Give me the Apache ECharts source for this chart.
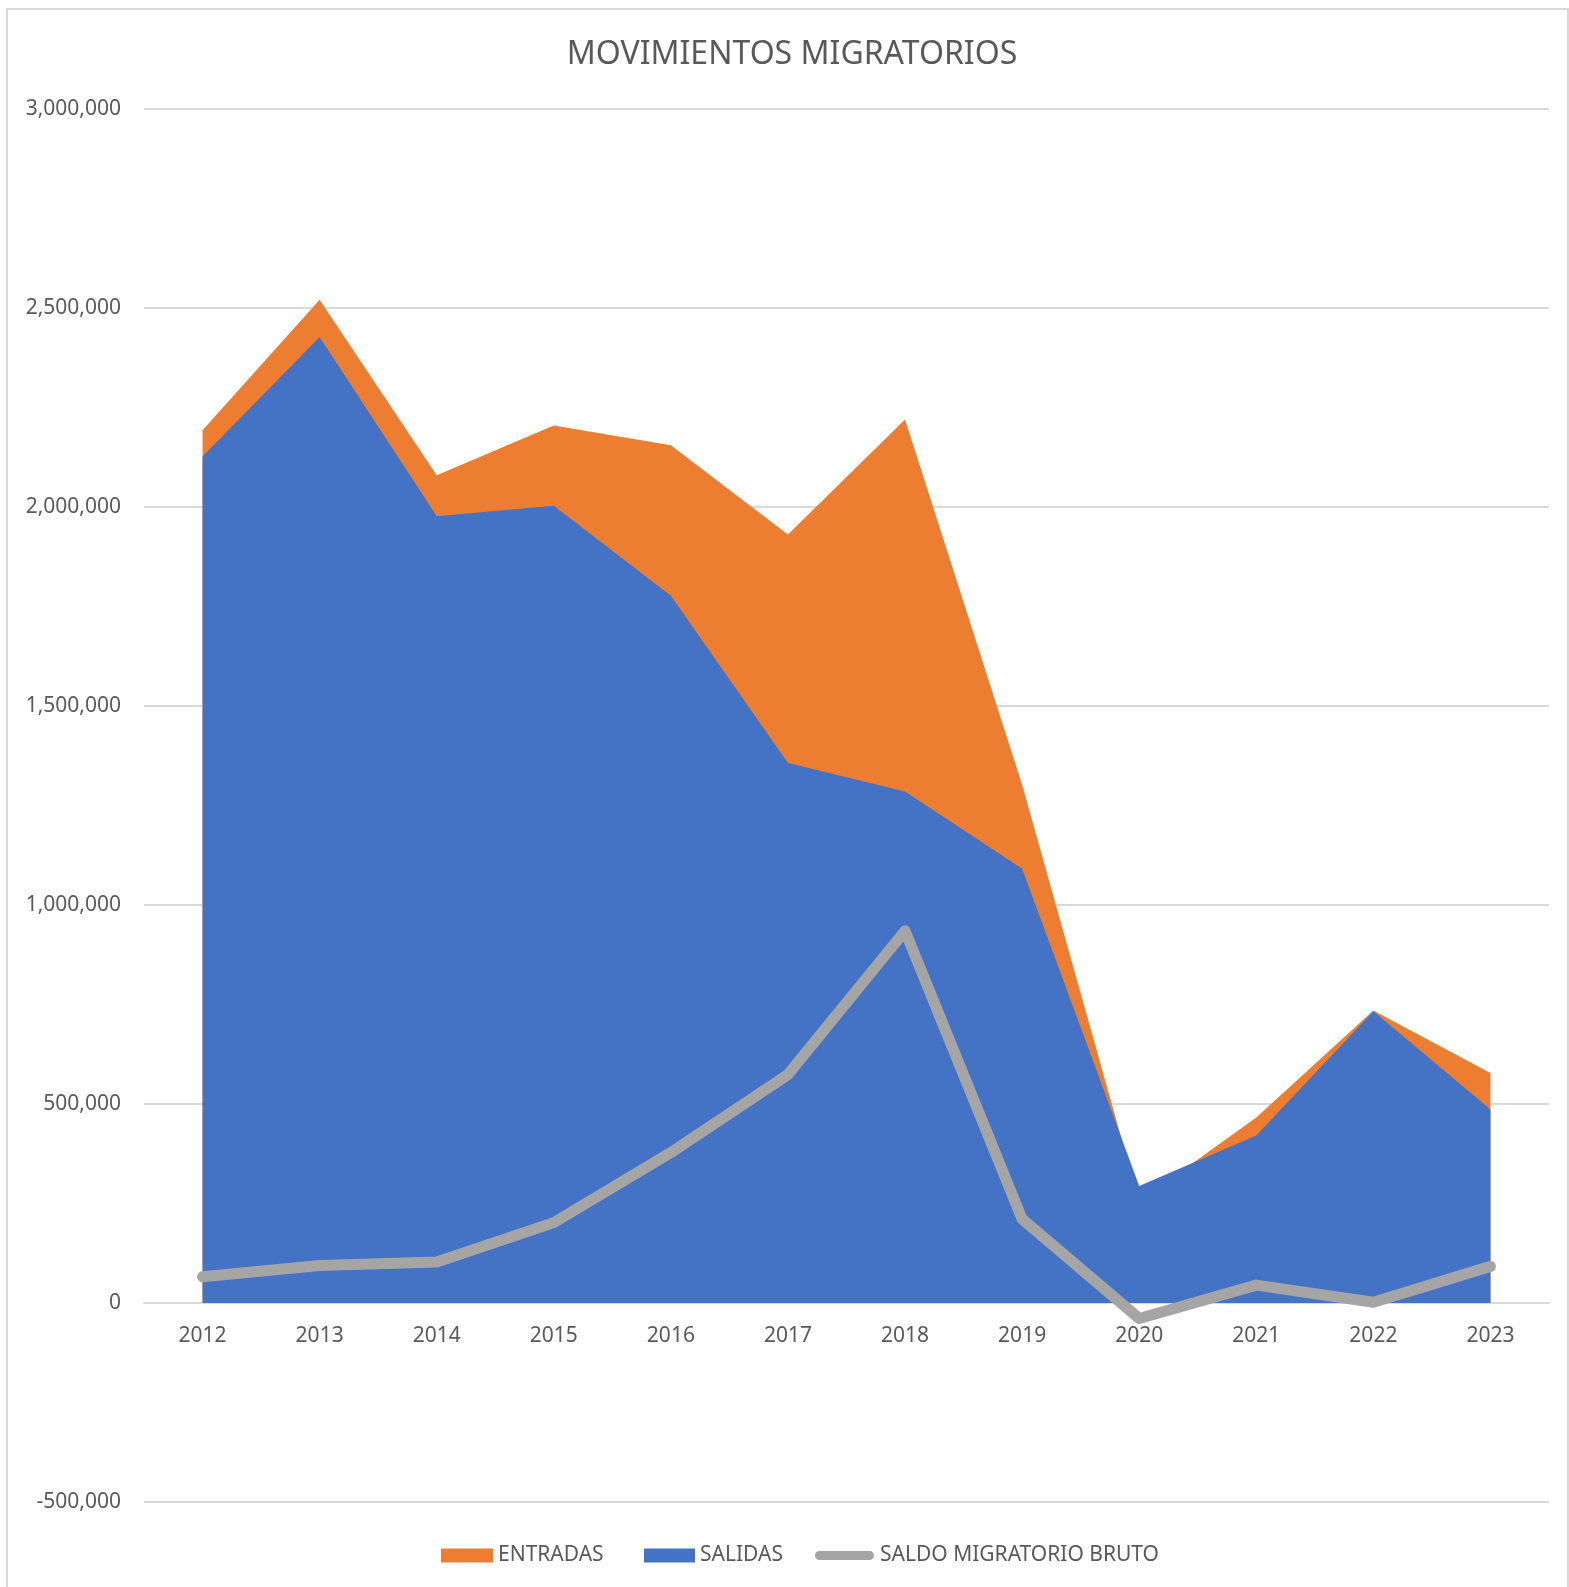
<!DOCTYPE html>
<html>
<head>
<meta charset="utf-8">
<script src="https://cdn.jsdelivr.net/npm/echarts@6/dist/echarts.min.js"></script>
<style>
html,body{margin:0;padding:0;background:#fff;}
#chart{width:1569px;height:1587px;}
</style>
</head>
<body>
<div id="chart"></div>
<script>
const years = ['2012','2013','2014','2015','2016','2017','2018','2019','2020','2021','2022','2023'];
const entradas = [2193000, 2521000, 2080000, 2205000, 2155000, 1931000, 2220000, 1302000, 255000, 466000, 735000, 578000];
const salidas = [2127000, 2427000, 1977000, 2003000, 1777000, 1357000, 1285000, 1091000, 294000, 421000, 733000, 486000];
const saldo = [66000, 94000, 103000, 202000, 378000, 574000, 935000, 211000, -39000, 45000, 2000, 92000];
const yMin = -500000, yMax = 3000000, yStep = 500000;

const FONT = 'Noto Sans';
const TXT = '#595959';
const GRID = {left: 144, top: 109, width: 1405, height: 1393};
// pixel offset that brings the category axis up to the value 0 (Excel style)
const zeroOffset = -GRID.height * (0 - yMin) / (yMax - yMin);

const chart = echarts.init(document.getElementById('chart'), null, {renderer: 'canvas'});
const legendText = {fontFamily: FONT, fontSize: 21, color: TXT};
chart.setOption({
  backgroundColor: '#ffffff',
  animation: false,
  title: {
    text: 'MOVIMIENTOS MIGRATORIOS',
    left: 787,
    textAlign: 'center',
    top: 34,
    textStyle: {fontFamily: FONT, fontSize: 32, fontWeight: 'normal', color: TXT}
  },
  graphic: [{
    type: 'rect', silent: true, z: -1,
    shape: {x: 7, y: 9, width: 1561, height: 1600},
    style: {fill: 'none', stroke: '#d9d9d9', lineWidth: 2}
  }],
  legend: [
    {data: [{name: 'ENTRADAS', icon: 'rect'}], left: 436, top: 1540, itemWidth: 52, itemHeight: 14, textStyle: legendText, selectedMode: false},
    {data: [{name: 'SALIDAS', icon: 'rect'}], left: 639, top: 1540, itemWidth: 51, itemHeight: 14, textStyle: legendText, selectedMode: false},
    {data: [{name: 'SALDO MIGRATORIO BRUTO', icon: 'path://M4.5,0 L54.5,0 A4.5,4.5 0 0 1 54.5,9 L4.5,9 A4.5,4.5 0 0 1 4.5,0 Z'}], left: 810, top: 1540, itemWidth: 61, itemHeight: 9, textStyle: legendText, selectedMode: false}
  ],
  grid: Object.assign({containLabel: false}, GRID),
  xAxis: {
    type: 'category',
    data: years,
    boundaryGap: true,
    offset: zeroOffset,
    axisLine: {onZero: false, lineStyle: {color: '#d9d9d9', width: 2}},
    axisTick: {show: false},
    axisLabel: {fontFamily: FONT, fontSize: 21, color: TXT, margin: 23},
    splitLine: {show: false}
  },
  yAxis: {
    type: 'value',
    min: yMin, max: yMax, interval: yStep,
    axisLine: {show: false},
    axisTick: {show: false},
    axisLabel: {fontFamily: FONT, fontSize: 21, color: TXT, margin: 23,
      formatter: v => v.toLocaleString('en-US')},
    splitLine: {lineStyle: {color: '#d9d9d9', width: 2}}
  },
  series: [
    {name: 'ENTRADAS', type: 'line', data: entradas, symbol: 'none',
      lineStyle: {width: 0}, itemStyle: {color: '#ED7D31'},
      areaStyle: {color: '#ED7D31', opacity: 1}},
    {name: 'SALIDAS', type: 'line', data: salidas, symbol: 'none',
      lineStyle: {width: 0}, itemStyle: {color: '#4472C4'},
      areaStyle: {color: '#4472C4', opacity: 1}},
    {name: 'SALDO MIGRATORIO BRUTO', type: 'line', data: saldo, symbol: 'none',
      itemStyle: {color: '#A5A5A5'},
      lineStyle: {color: '#A5A5A5', width: 11, cap: 'round', join: 'round'}}
  ]
});
</script>
</body>
</html>
